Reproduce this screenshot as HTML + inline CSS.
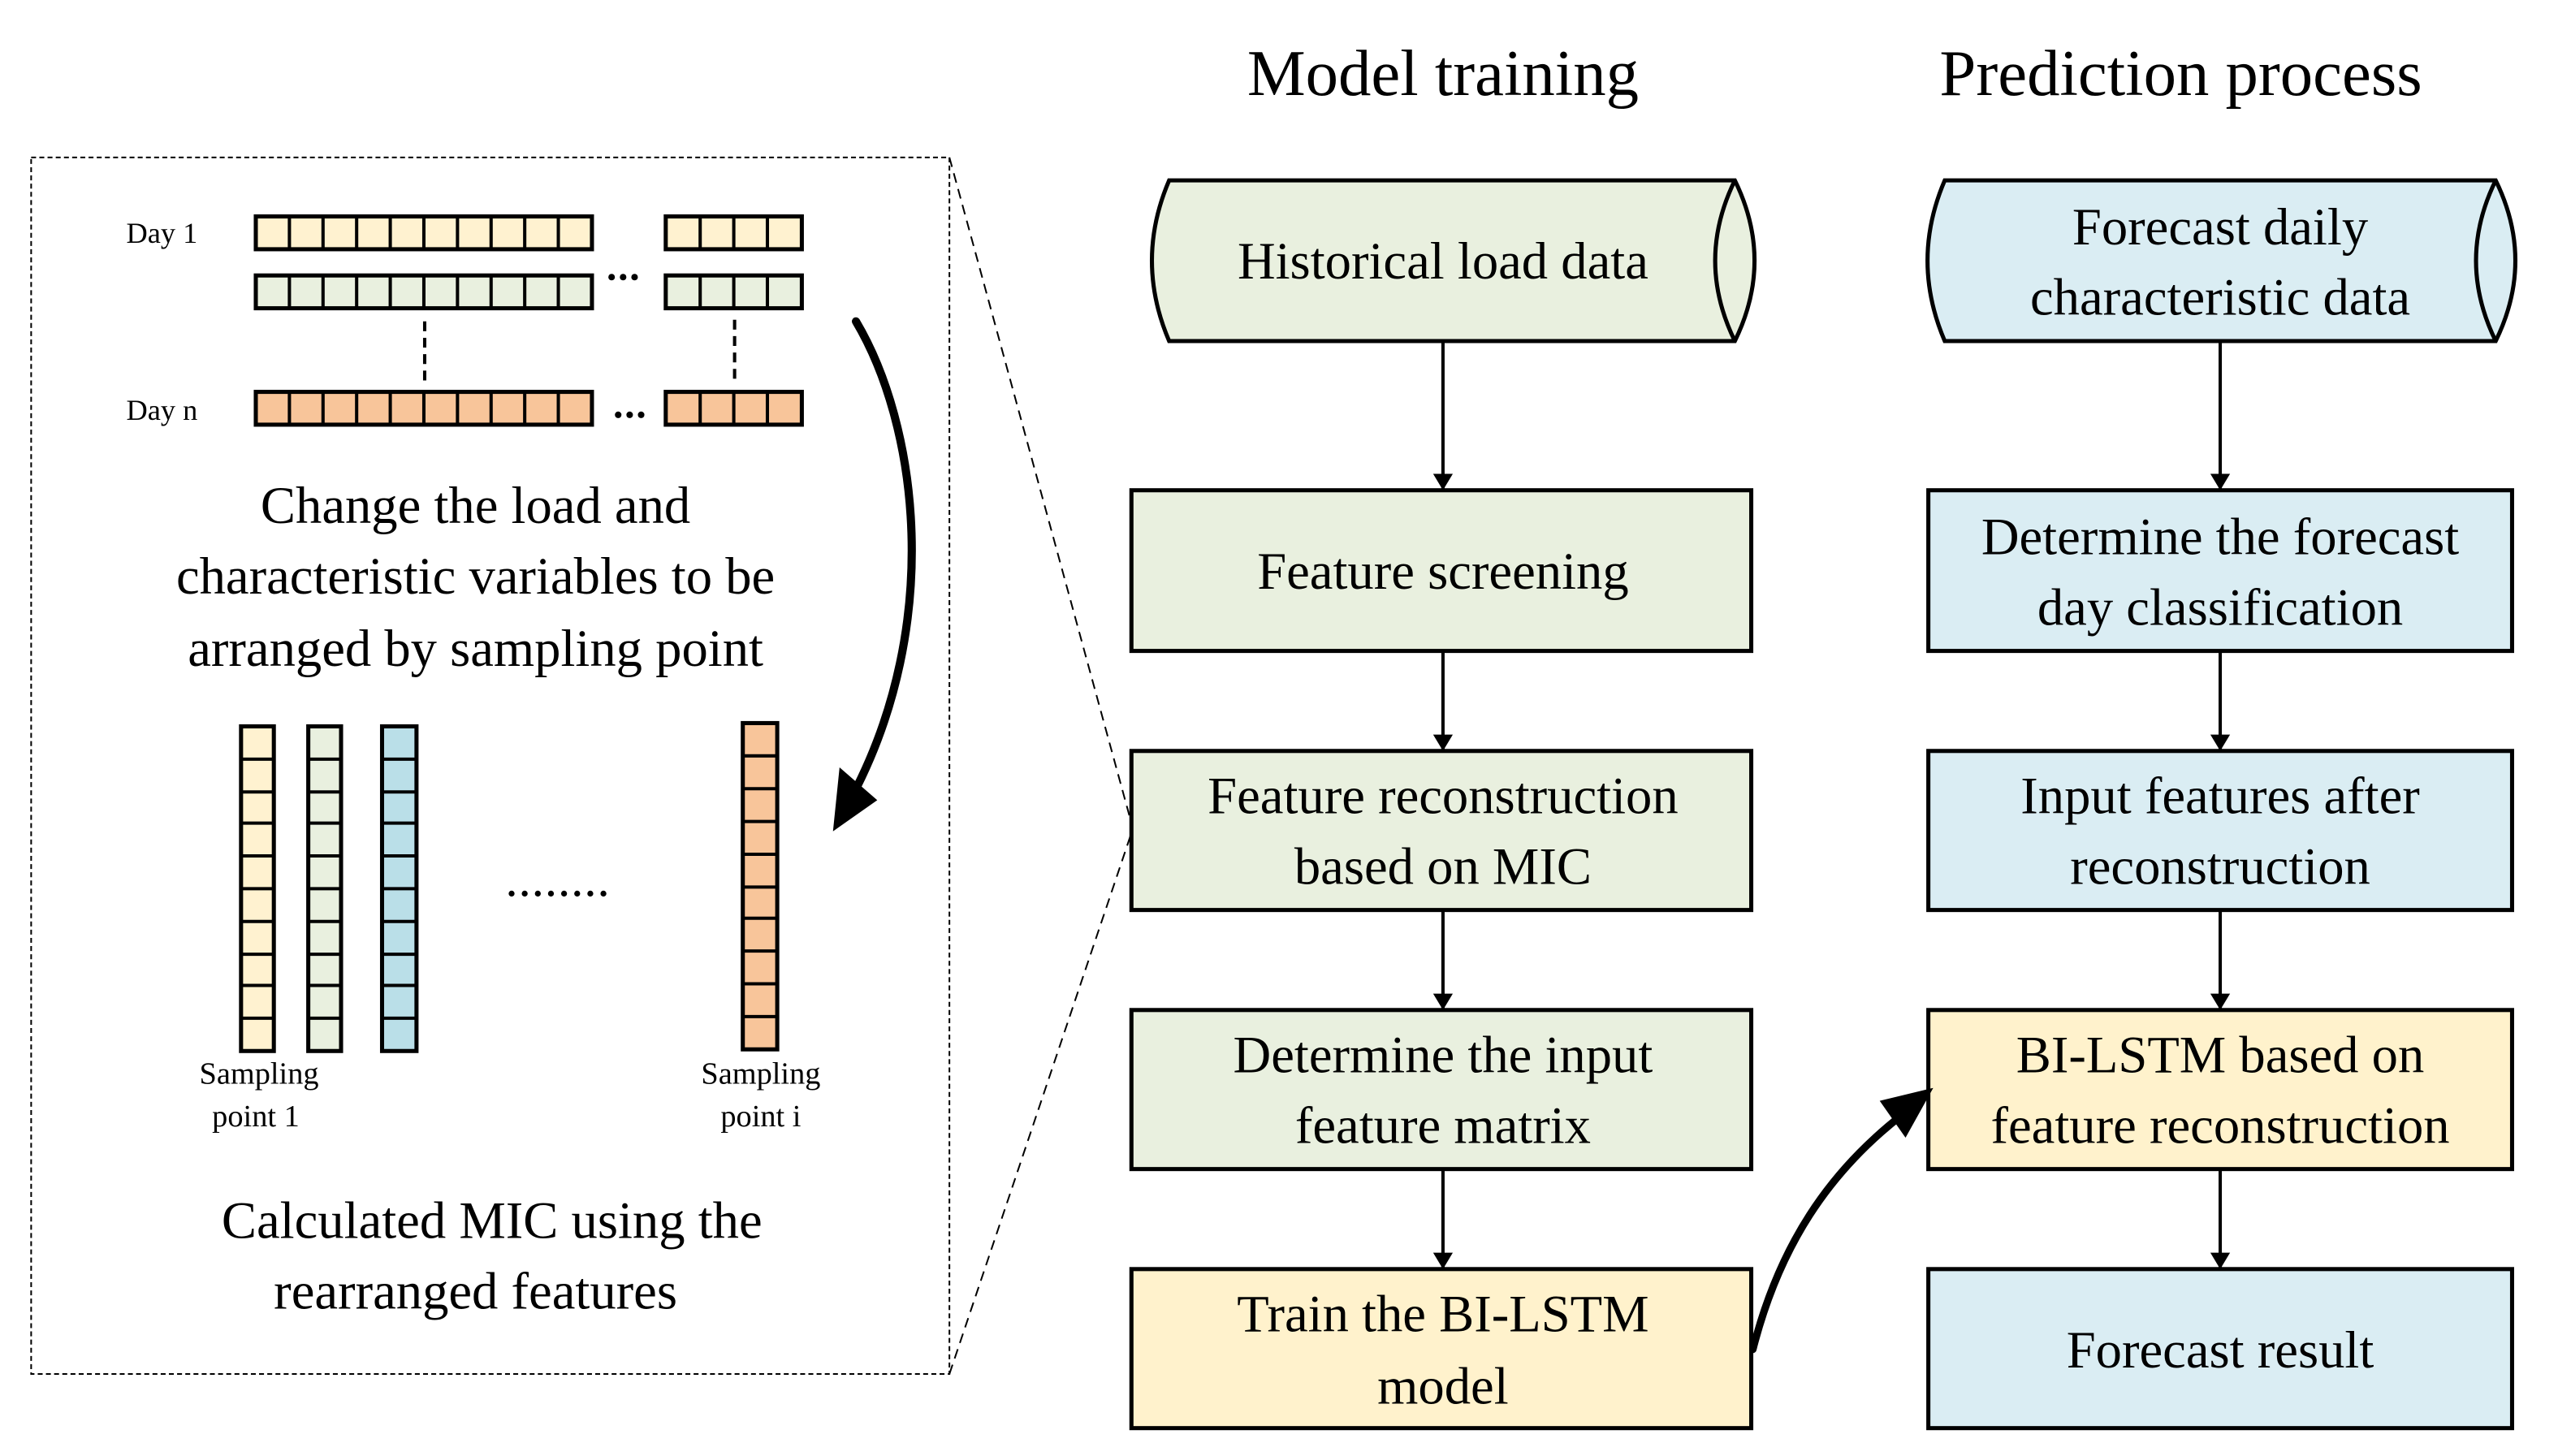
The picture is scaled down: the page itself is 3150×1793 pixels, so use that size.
<!DOCTYPE html>
<html><head><meta charset="utf-8"><style>html,body{margin:0;padding:0;background:#fff}svg{display:block}</style></head>
<body>
<svg width="3150" height="1793" viewBox="0 0 1560 888" preserveAspectRatio="none" xmlns="http://www.w3.org/2000/svg" font-family="Liberation Serif, serif" fill="#000">
<defs>
<marker id="ah" markerWidth="10" markerHeight="14" refX="9" refY="7" orient="auto" markerUnits="userSpaceOnUse"><path d="M0,1 L10,7 L0,13 Z" fill="#000"/></marker>
</defs>
<!-- dotted box -->
<rect x="19" y="96" width="560" height="742" fill="none" stroke="#000" stroke-width="1" stroke-dasharray="3,2"/>
<line x1="579" y1="96" x2="690" y2="502" stroke="#000" stroke-width="1" stroke-dasharray="6,4"/>
<line x1="579" y1="838" x2="690" y2="508" stroke="#000" stroke-width="1" stroke-dasharray="6,4"/>

<!-- titles -->
<text x="880" y="58" font-size="40" text-anchor="middle">Model training</text>
<text x="1330" y="58" font-size="40" text-anchor="middle">Prediction process</text>

<!-- day bars -->
<text x="77" y="148" font-size="18">Day 1</text>
<text x="77" y="256" font-size="18">Day n</text>
<g stroke="#000" stroke-width="2.5">
<g fill="#fff2d0">
<rect x="156" y="132" width="205" height="20"/><rect x="406" y="132" width="83" height="20"/>
</g>
<g fill="#e9f0df">
<rect x="156" y="168" width="205" height="20"/><rect x="406" y="168" width="83" height="20"/>
</g>
<g fill="#f8c59a">
<rect x="156" y="239" width="205" height="20"/><rect x="406" y="239" width="83" height="20"/>
</g>
<g stroke-width="2">
<path d="M176.5,132v20M197,132v20M217.5,132v20M238,132v20M258.5,132v20M279,132v20M299.5,132v20M320,132v20M340.5,132v20 M427,132v20M447.5,132v20M468,132v20"/>
<path d="M176.5,168v20M197,168v20M217.5,168v20M238,168v20M258.5,168v20M279,168v20M299.5,168v20M320,168v20M340.5,168v20 M427,168v20M447.5,168v20M468,168v20"/>
<path d="M176.5,239v20M197,239v20M217.5,239v20M238,239v20M258.5,239v20M279,239v20M299.5,239v20M320,239v20M340.5,239v20 M427,239v20M447.5,239v20M468,239v20"/>
</g>
<path d="M259,196v40M448,195v40" stroke-width="2" stroke-dasharray="6,4"/>
</g>
<g>
<circle cx="373" cy="169" r="2"/><circle cx="380" cy="169" r="2"/><circle cx="387" cy="169" r="2"/>
<circle cx="377" cy="253" r="2"/><circle cx="384" cy="253" r="2"/><circle cx="391" cy="253" r="2"/>
</g>

<g font-size="32" text-anchor="middle">
<text x="290" y="319">Change the load and</text>
<text x="290" y="362">characteristic variables to be</text>
<text x="290" y="406">arranged by sampling point</text>
<text x="300" y="755">Calculated  MIC using the</text>
<text x="290" y="798">rearranged features</text>
</g>

<!-- vertical bars -->
<g stroke="#000" stroke-width="2.5">
<rect x="147" y="443" width="20" height="198" fill="#fff2d0"/>
<rect x="188" y="443" width="20" height="198" fill="#e9f0df"/>
<rect x="233" y="443" width="21" height="198" fill="#badfe8"/>
<rect x="453" y="441" width="21" height="199" fill="#f8c59a"/>
<path stroke-width="2" d="M147,463h20M147,483h20M147,502h20M147,522h20M147,542h20M147,562h20M147,582h20M147,601h20M147,621h20
M188,463h20M188,483h20M188,502h20M188,522h20M188,542h20M188,562h20M188,582h20M188,601h20M188,621h20
M233,463h21M233,483h21M233,502h21M233,522h21M233,542h21M233,562h21M233,582h21M233,601h21M233,621h21
M453,461h21M453,481h21M453,501h21M453,521h21M453,541h21M453,560h21M453,580h21M453,600h21M453,620h21"/>
</g>
<g><circle cx="312" cy="545" r="1.8"/><circle cx="320" cy="545" r="1.8"/><circle cx="328" cy="545" r="1.8"/><circle cx="336" cy="545" r="1.8"/><circle cx="344" cy="545" r="1.8"/><circle cx="352" cy="545" r="1.8"/><circle cx="360" cy="545" r="1.8"/><circle cx="368" cy="545" r="1.8"/></g>
<g font-size="19" text-anchor="middle">
<text x="158" y="661">Sampling</text><text x="156" y="687">point 1</text>
<text x="464" y="661">Sampling</text><text x="464" y="687">point i</text>
</g>

<!-- curved arrow left -->
<path d="M522,196 C560,260 575,380 520,485" fill="none" stroke="#000" stroke-width="5" stroke-linecap="round"/>
<path d="M508,507 L512,468 L535,488 Z" fill="#000"/>

<!-- cylinders -->
<g stroke="#000" stroke-width="2.5">
<path d="M713,110 L1058,110 Q1082,159 1058,208 L713,208 Q692,159 713,110 Z" fill="#e9f0df"/>
<path d="M1058,110 Q1034,159 1058,208" fill="none"/>
<path d="M1186,110 L1522,110 Q1546,159 1522,208 L1186,208 Q1165,159 1186,110 Z" fill="#daedf3"/>
<path d="M1522,110 Q1498,159 1522,208" fill="none"/>
</g>

<!-- boxes -->
<g stroke="#000" stroke-width="2.5">
<rect x="690" y="299" width="378" height="98" fill="#e9f0df"/>
<rect x="690" y="458" width="378" height="97" fill="#e9f0df"/>
<rect x="690" y="616" width="378" height="97" fill="#e9f0df"/>
<rect x="690" y="774" width="378" height="97" fill="#fff2cc"/>
<rect x="1176" y="299" width="356" height="98" fill="#daedf3"/>
<rect x="1176" y="458" width="356" height="97" fill="#daedf3"/>
<rect x="1176" y="616" width="356" height="97" fill="#fff2cc"/>
<rect x="1176" y="774" width="356" height="97" fill="#daedf3"/>
</g>

<!-- arrows -->
<g stroke="#000" stroke-width="2" marker-end="url(#ah)">
<line x1="880" y1="208" x2="880" y2="298"/>
<line x1="880" y1="397" x2="880" y2="457"/>
<line x1="880" y1="555" x2="880" y2="615"/>
<line x1="880" y1="713" x2="880" y2="773"/>
<line x1="1354" y1="208" x2="1354" y2="298"/>
<line x1="1354" y1="397" x2="1354" y2="457"/>
<line x1="1354" y1="555" x2="1354" y2="615"/>
<line x1="1354" y1="713" x2="1354" y2="773"/>
</g>
<path d="M1069,823 C1085,760 1115,715 1160,680" fill="none" stroke="#000" stroke-width="4.5" stroke-linecap="round"/>
<path d="M1177,665 L1148,672 L1162,692 Z" fill="#000" stroke="#000" stroke-width="2"/>

<!-- box text -->
<g font-size="32" text-anchor="middle">
<text x="880" y="170">Historical load data</text>
<text x="880" y="359">Feature screening</text>
<text x="880" y="496">Feature reconstruction</text>
<text x="880" y="539">based on MIC</text>
<text x="880" y="654">Determine the input</text>
<text x="880" y="697">feature matrix</text>
<text x="880" y="812">Train the BI-LSTM</text>
<text x="880" y="856">model</text>
<text x="1354" y="149">Forecast daily</text>
<text x="1354" y="192">characteristic data</text>
<text x="1354" y="338">Determine the forecast</text>
<text x="1354" y="381">day classification</text>
<text x="1354" y="496">Input features after</text>
<text x="1354" y="539">reconstruction</text>
<text x="1354" y="654">BI-LSTM  based on</text>
<text x="1354" y="697">feature reconstruction</text>
<text x="1354" y="834">Forecast result</text>
</g>
</svg>
</body></html>
